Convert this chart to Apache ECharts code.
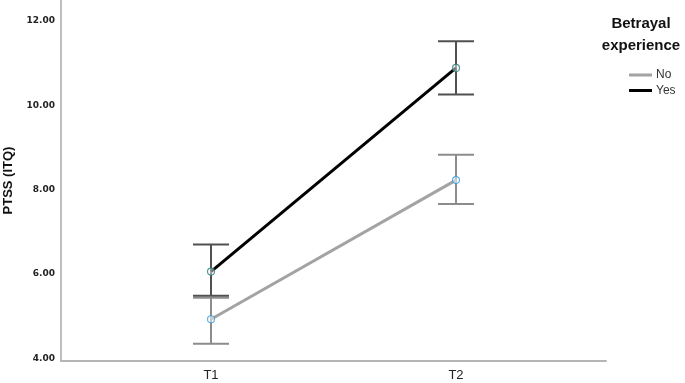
<!DOCTYPE html>
<html>
<head>
<meta charset="utf-8">
<script src="https://cdn.jsdelivr.net/npm/echarts@6/dist/echarts.min.js"></script>
<style>html,body{margin:0;padding:0;background:#fff}#c{width:685px;height:383px}</style>
</head>
<body>
<div id="c"></div>
<script>
const categories = ['T1', 'T2'];
const yTicks = [4, 6, 8, 10, 12];
const seriesNames = ['No', 'Yes'];
const noMean = [4.93, 8.23];
const noLow = [4.35, 7.66];
const noHigh = [5.44, 8.83];
const yesMean = [6.06, 10.89];
const yesLow = [5.49, 10.26];
const yesHigh = [6.70, 11.52];

const xs = categories.map((c, i) => i + 1);
const pts = (arr) => arr.map((v, i) => [xs[i], v]);
const bars = (lo, hi) => lo.map((v, i) => [xs[i], v, hi[i]]);

function errRender(color) {
  return function (params, api) {
    const x = api.value(0);
    const a = api.coord([x, api.value(1)]);
    const b = api.coord([x, api.value(2)]);
    const hw = 18;
    const st = { stroke: color, lineWidth: 2 };
    return {
      type: 'group',
      children: [
        { type: 'line', shape: { x1: a[0], y1: a[1], x2: b[0], y2: b[1] }, style: st },
        { type: 'line', shape: { x1: a[0] - hw, y1: a[1], x2: a[0] + hw, y2: a[1] }, style: st },
        { type: 'line', shape: { x1: b[0] - hw, y1: b[1], x2: b[0] + hw, y2: b[1] }, style: st }
      ]
    };
  };
}

const chart = echarts.init(document.getElementById('c'), null, { renderer: 'canvas' });
chart.setOption({
  animation: false,
  backgroundColor: '#fff',
  grid: { left: 61, right: 79, top: 0, bottom: 22, containLabel: false, outerBoundsMode: 'none' },
  xAxis: {
    type: 'value', min: 0.3878, max: 2.6122,
    splitLine: { show: false },
    axisTick: { show: false },
    axisLine: { show: true, lineStyle: { color: '#b4b4b4', width: 2 } },
    axisLabel: {
      customValues: xs,
      formatter: (v) => categories[Math.round(v) - 1] || '',
      color: '#222', fontSize: 13, fontFamily: 'Liberation Sans', margin: 8
    }
  },
  yAxis: {
    type: 'value', min: 3.94, max: 12.5,
    name: 'PTSS (ITQ)', nameLocation: 'middle', nameRotate: 90, nameGap: 46,
    nameTextStyle: { color: '#111', fontSize: 13, fontWeight: 'bold', fontFamily: 'Liberation Sans' },
    splitLine: { show: false },
    axisTick: { show: false },
    axisLine: { show: true, lineStyle: { color: '#a8a8a8', width: 1.5 } },
    axisLabel: {
      customValues: yTicks,
      formatter: (v) => v.toFixed(2),
      color: '#222', fontSize: 9, fontWeight: 'bold', fontFamily: 'DejaVu Sans', margin: 6
    }
  },
  legend: {
    orient: 'vertical', left: 624, top: 63,
    icon: 'rect', itemWidth: 23, itemHeight: 3, itemGap: 1.5,
    data: seriesNames,
    textStyle: { color: '#333', fontSize: 12, fontFamily: 'Liberation Sans', lineHeight: 14, padding: [0, 0, 0, -1] },
    selectedMode: false
  },
  graphic: [{
    type: 'text', x: 641, y: 35,
    style: {
      text: 'Betrayal\nexperience', fill: '#111',
      font: 'bold 15px "Liberation Sans"', textAlign: 'center', textVerticalAlign: 'middle', lineHeight: 21.4
    }
  }],
  series: [
    { type: 'custom', name: 'No error', data: bars(noLow, noHigh), renderItem: errRender('#8c8c8c'), z: 1, silent: true },
    { type: 'custom', name: 'Yes error', data: bars(yesLow, yesHigh), renderItem: errRender('#505050'), z: 1, silent: true },
    { type: 'line', name: seriesNames[0], data: pts(noMean), showSymbol: false, itemStyle: { color: '#a3a3a3' }, lineStyle: { color: '#a3a3a3', width: 3 }, z: 2 },
    { type: 'line', name: seriesNames[1], data: pts(yesMean), showSymbol: false, itemStyle: { color: '#000' }, lineStyle: { color: '#000', width: 3 }, z: 2 },
    { type: 'scatter', name: 'No pts', data: pts(noMean), symbol: 'circle', symbolSize: 7, itemStyle: { color: 'rgba(255,255,255,0.6)', borderColor: '#3a9fe0', borderWidth: 1.2 }, z: 3 },
    { type: 'scatter', name: 'Yes pts', data: pts(yesMean), symbol: 'circle', symbolSize: 7, itemStyle: { color: 'rgba(255,255,255,0.6)', borderColor: '#2c8080', borderWidth: 1.2 }, z: 3 }
  ]
});
</script>
</body>
</html>
